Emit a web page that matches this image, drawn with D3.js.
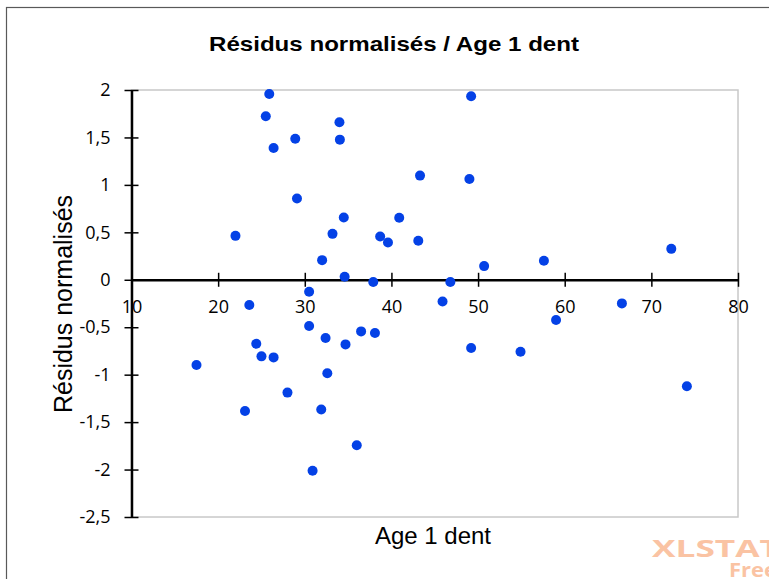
<!DOCTYPE html>
<html>
<head>
<meta charset="utf-8">
<script src="https://cdn.jsdelivr.net/npm/d3@7"></script>
<style>
 body { margin: 0; background: #fff; }
 svg { display: block; }
</style>
</head>
<body>
<svg width="769" height="579"></svg>
<script>
// data
var age = [25.9, 25.5, 26.4, 28.9, 34.0, 34.05, 29.1, 22.0, 33.2, 34.5,
           32.0, 34.6, 30.5, 23.6, 30.5, 24.4, 25.0, 26.4, 32.4, 34.7,
           17.5, 32.6, 28.0, 23.1, 31.9, 30.9, 36.0, 49.2, 43.3, 49.0,
           40.9, 38.7, 39.6, 43.1, 50.7, 57.6, 37.9, 46.8, 45.9, 36.5,
           38.1, 49.2, 54.9, 59.0, 72.3, 66.6, 74.1];
var residus = [1.958, 1.723, 1.389, 1.487, 1.660, 1.477, 0.856, 0.463, 0.484, 0.656,
               0.207, 0.032, -0.126, -0.266, -0.487, -0.674, -0.807, -0.818, -0.614, -0.681,
               -0.898, -0.986, -1.189, -1.382, -1.368, -2.013, -1.744, 1.934, 1.098, 1.063,
               0.653, 0.456, 0.393, 0.411, 0.144, 0.200, -0.024, -0.024, -0.228, -0.544,
               -0.561, -0.719, -0.758, -0.424, 0.326, -0.249, -1.123];
var xTicks = [10, 20, 30, 40, 50, 60, 70, 80];
var yTicks = [2, 1.5, 1, 0.5, 0, -0.5, -1, -1.5, -2, -2.5];

var svg = d3.select("svg");
var font = "'Open Sans', sans-serif";
var arial = "'Liberation Sans', Arial, sans-serif";

// outer chart frame
svg.append("rect")
 .attr("x", 6.5).attr("y", 7.5)
 .attr("width", 800).attr("height", 600)
 .attr("fill", "#fff")
 .attr("stroke", "#595959")
 .attr("stroke-width", 1.2);

var x = d3.scaleLinear().domain([10, 80]).range([131.5, 738]);
var y = d3.scaleLinear().domain([-2.5, 2]).range([517, 90]);

// plot area border
svg.append("rect")
 .attr("x", x(10)).attr("y", y(2))
 .attr("width", x(80) - x(10)).attr("height", y(-2.5) - y(2))
 .attr("fill", "none")
 .attr("stroke", "#c8c8c8")
 .attr("stroke-width", 1.5);

// title
svg.append("text")
 .attr("x", 209).attr("y", 51)
 .attr("font-family", arial)
 .attr("font-weight", "bold")
 .attr("font-size", 21)
 .attr("textLength", 370)
 .attr("lengthAdjust", "spacingAndGlyphs")
 .attr("fill", "#000")
 .text("Résidus normalisés / Age 1 dent");

// y axis at x = 10
var yAxis = svg.append("g")
 .attr("transform", "translate(" + x(10) + ",0)")
 .call(d3.axisLeft(y).tickValues(yTicks).tickSize(0).tickPadding(21)
   .tickFormat(function(d) { return String(d).replace(".", ","); }));
yAxis.select(".domain").attr("stroke", "#000").attr("stroke-width", 2.5);
yAxis.selectAll(".tick line").attr("x1", -7).attr("x2", 7).attr("stroke", "#000").attr("stroke-width", 1.5);
yAxis.selectAll(".tick text").attr("font-family", font).attr("font-size", 18).attr("fill", "#000");

// x axis at y = 0
var xAxis = svg.append("g")
 .attr("transform", "translate(0," + y(0) + ")")
 .call(d3.axisBottom(x).tickValues(xTicks).tickSize(0).tickPadding(20));
xAxis.select(".domain").attr("stroke", "#000").attr("stroke-width", 2.5);
xAxis.selectAll(".tick line").attr("y1", -7).attr("y2", 7).attr("stroke", "#000").attr("stroke-width", 1.5);
xAxis.selectAll(".tick text").attr("font-family", font).attr("font-size", 18).attr("fill", "#000");

// points
svg.append("g").selectAll("circle")
 .data(age.map(function(a, i) { return [a, residus[i]]; }))
 .enter().append("circle")
 .attr("cx", function(d) { return x(d[0]); })
 .attr("cy", function(d) { return y(d[1]); })
 .attr("r", 5)
 .attr("fill", "#0441e6");

// axis titles
svg.append("text")
 .attr("transform", "translate(72,304) rotate(-90)")
 .attr("text-anchor", "middle")
 .attr("font-family", arial)
 .attr("font-size", 25)
 .attr("fill", "#000")
 .text("Résidus normalisés");

svg.append("text")
 .attr("x", 433).attr("y", 544)
 .attr("text-anchor", "middle")
 .attr("font-family", arial)
 .attr("font-size", 24)
 .attr("fill", "#000")
 .text("Age 1 dent");

// watermark (cut off at the right edge, as in the original)
svg.append("text")
 .attr("x", 652).attr("y", 557)
 .attr("font-family", font)
 .attr("font-weight", "bold")
 .attr("font-size", 24)
 .attr("textLength", 128)
 .attr("lengthAdjust", "spacingAndGlyphs")
 .attr("fill", "#fac3a3")
 .text("XLSTAT");
svg.append("text")
 .attr("x", 729).attr("y", 577)
 .attr("font-family", font)
 .attr("font-weight", "bold")
 .attr("font-size", 19)
 .attr("textLength", 48)
 .attr("lengthAdjust", "spacingAndGlyphs")
 .attr("fill", "#fac3a3")
 .text("Free");
</script>
</body>
</html>
